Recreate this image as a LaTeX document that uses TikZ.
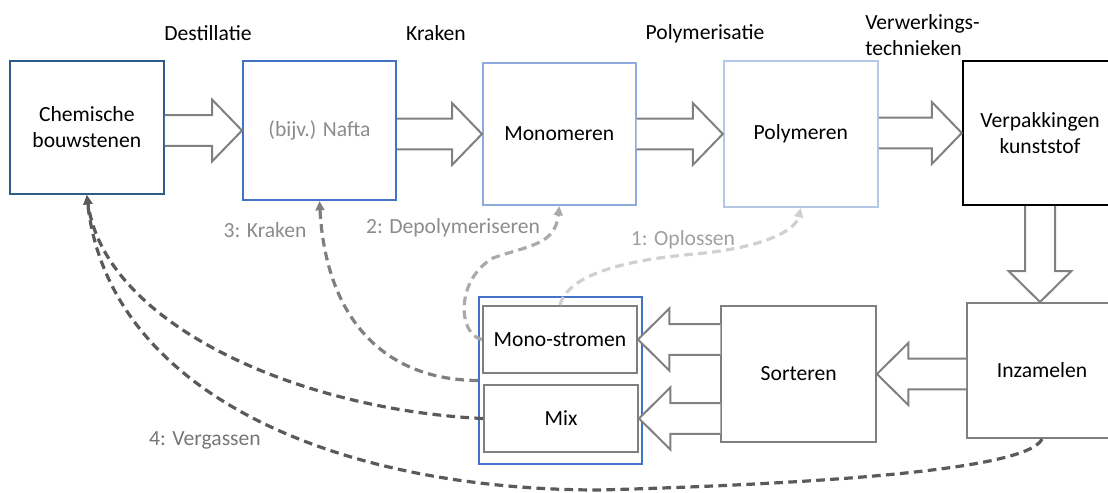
\documentclass[tikz,border=0pt]{standalone}
\usepackage{fontspec}
\setmainfont{Carlito}
\usetikzlibrary{arrows.meta,calc}
\definecolor{cbdark}{HTML}{2F5A8C}
\definecolor{cbmid}{HTML}{4472C4}
\definecolor{cblight}{HTML}{8FAADC}
\definecolor{cbpale}{HTML}{B4C7E7}
\definecolor{boxgrey}{HTML}{7F7F7F}
\definecolor{arrgrey}{HTML}{808080}
\definecolor{dashdark}{HTML}{5A5A5A}
\definecolor{dashmid}{HTML}{7F7F7F}
\definecolor{dashlight}{HTML}{AAAAAA}
\definecolor{dashpale}{HTML}{D0D0D0}
\definecolor{labgrey}{HTML}{8C8C8C}
\definecolor{labpale}{HTML}{A0A0A0}
\definecolor{labdark}{HTML}{767676}
\newcommand\rblock[2]{\draw[blockarrow] let \p1=(#1.east), \p2=(#2.west) in
  (\x1,\y2+11.6pt) -- (\x2-22.5pt,\y2+11.6pt) -- (\x2-22.5pt,\y2+23.25pt) -- (\x2,\y2)
  -- (\x2-22.5pt,\y2-23.25pt) -- (\x2-22.5pt,\y2-11.6pt) -- (\x1,\y2-11.6pt);}
\newcommand\lblock[2]{\draw[blockarrow] let \p1=(#1.west), \p2=(#2.east) in
  (\x1,\y2+11.6pt) -- (\x2+23.5pt,\y2+11.6pt) -- (\x2+23.5pt,\y2+23.25pt) -- (\x2,\y2)
  -- (\x2+23.5pt,\y2-23.25pt) -- (\x2+23.5pt,\y2-11.6pt) -- (\x1,\y2-11.6pt);}
\newcommand\dblock[2]{\draw[blockarrow] let \p1=(#1.south), \p2=(#2.north) in
  (\x1-11.25pt,\y1) -- (\x1-11.25pt,\y2+23.25pt) -- (\x1-23.6pt,\y2+23.25pt) -- (\x1,\y2)
  -- (\x1+23.6pt,\y2+23.25pt) -- (\x1+11.25pt,\y2+23.25pt) -- (\x1+11.25pt,\y1);}
\tikzset{
  txt/.style={font=\fontsize{16.2pt}{19.6pt}\selectfont, align=center, inner sep=0pt},
  box/.style={txt, draw, fill=white, line width=1.5pt, rectangle},
  blockarrow/.style={draw=arrgrey, fill=white, line width=1.5pt, line join=miter},
  recyc/.style={line width=2.4pt, dash pattern=on 6.5pt off 4pt, -{Triangle[length=7pt,width=6.5pt]}},
}
\begin{document}
\begin{tikzpicture}[x=0.75pt, y=-0.75pt]
\useasboundingbox (0,0) rectangle (1108,493);
% top row boxes
\node[box, draw=cbdark, minimum width=154*0.75pt, minimum height=133*0.75pt] (chem) at (86.8,127.5) {Chemische\\bouwstenen};
\node[box, draw=cbmid, text=labgrey, minimum width=153*0.75pt, minimum height=139*0.75pt] (nafta) at (319.5,130.5) {(bijv.) Nafta};
\node[box, draw=cblight, minimum width=152.6*0.75pt, minimum height=142*0.75pt] (mono) at (559.3,134) {Monomeren};
\node[box, draw=cbpale, minimum width=154*0.75pt, minimum height=146*0.75pt] (poly) at (800.8,134) {Polymeren};
\node[box, draw=black, line width=1.8pt, minimum width=154*0.75pt, minimum height=144*0.75pt] (verp) at (1040,133) {Verpakkingen\\kunststof};
% bottom row boxes
\node[box, draw=boxgrey, minimum width=150*0.75pt, minimum height=135*0.75pt] (inz) at (1042,370.5) {Inzamelen};
\node[box, draw=boxgrey, minimum width=154.5*0.75pt, minimum height=136*0.75pt] (sort) at (798.7,374) {Sorteren};
\node[box, draw=cbmid, minimum width=163*0.75pt, minimum height=167*0.75pt] (sel) at (560.5,380.5) {};
\node[box, draw=boxgrey, minimum width=154*0.75pt, minimum height=67*0.75pt] (monostr) at (560,339.5) {Mono-stromen};
\node[box, draw=boxgrey, minimum width=154*0.75pt, minimum height=67*0.75pt] (mix) at (561,418.5) {Mix};
% block arrows
\rblock{chem}{nafta}
\rblock{nafta}{mono}
\rblock{mono}{poly}
\rblock{poly}{verp}
\dblock{verp}{inz}
\lblock{inz}{sort}
\lblock{sort}{monostr}
\lblock{sort}{mix}
% process labels
\node[txt] (ldest) at (208,33) {Destillatie};
\node[txt] (lkrak) at (436,33) {Kraken};
\node[txt] (lpoly) at (705,34) {Polymerisatie};
\node[txt, anchor=west, align=left] (lverw) at (865,35) {Verwerkings-\\technieken};
% recycling routes
\draw[recyc, draw=dashpale, color=dashpale] (monostr.north) .. controls (570,268) and (650,258) .. (695,254) .. controls (760,248) and (795,232) .. (poly.south);
\draw[recyc, draw=dashlight, color=dashlight] (monostr.west) .. controls (458,335) and (455,280) .. (493,258) .. controls (530,245) and (555,245) .. (mono.south);
\draw[recyc, draw=dashmid, color=dashmid] (sel.west) .. controls (385,380) and (326,320) .. (nafta.south);
\draw[recyc, draw=dashdark, color=dashdark] (mix.west) .. controls (300,410) and (105,325) .. (chem.south);
\draw[recyc, draw=dashdark, color=dashdark] (inz.south) .. controls (1030,465) and (880,482) .. (600,490) .. controls (330,490) and (108,390) .. (chem.south);
% route labels
\node[txt, text=labgrey] (r3) at (265,230) {3: Kraken};
\node[txt, text=labgrey] (r2) at (453,228) {2: Depolymeriseren};
\node[txt, text=labpale] (r1) at (683,240) {1: Oplossen};
\node[txt, text=labdark] (r4) at (205,440) {4: Vergassen};
\end{tikzpicture}
\end{document}
